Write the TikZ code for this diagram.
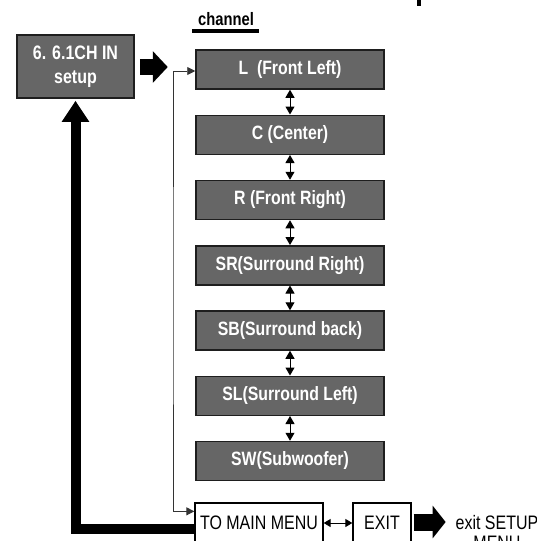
\documentclass[tikz,border=0pt]{standalone}
\usepackage{fontspec}
\setmainfont{Liberation Sans}[FakeStretch=0.82]
\usetikzlibrary{arrows.meta}
\definecolor{boxgray}{HTML}{666666}
\definecolor{edgegray}{HTML}{1E1E1E}
\definecolor{linegray}{HTML}{333333}
\begin{document}
\begin{tikzpicture}[x=1pt,y=-1pt,
  chbox/.style={draw=edgegray, line width=1.5pt, fill=boxgray, text=white,
    minimum width=188pt, minimum height=39pt, inner sep=0pt,
    font=\fontsize{19.3}{22}\selectfont\bfseries},
  setupbox/.style={draw=edgegray, line width=1.5pt, fill=boxgray, text=white,
    minimum width=117pt, minimum height=63pt, inner sep=0pt, align=center,
    font=\fontsize{19.5}{24}\selectfont\bfseries},
  wbox/.style={draw=black, line width=1.3pt, fill=white, minimum height=40pt,
    inner sep=0pt, font=\fontsize{19.5}{22}\selectfont},
  dbl/.style={line width=1pt, {Triangle[width=9pt,length=8pt]}-{Triangle[width=9pt,length=8pt]}},
  dblh/.style={line width=1pt, {Triangle[width=8pt,length=7pt]}-{Triangle[width=8pt,length=7pt]}},
  bracket/.style={draw=linegray, line width=0.9pt, {Triangle[width=8pt,length=8pt]}-{Triangle[width=8pt,length=8pt]}},
  fatarrow/.style={line width=#1, line join=miter}
]
\useasboundingbox (0,0) rectangle (536,541);

% heading
\node[font=\fontsize{18}{20}\selectfont\bfseries, inner sep=0pt] (chan) at (226,19) {channel};
\draw[line width=4pt] ([xshift=-34pt]chan.south |- 0,31) -- ([xshift=33pt]chan.south |- 0,31);
\fill (417,0) rectangle (421,6);

% setup box
\node[setupbox] (setup) at (75.5,66.5) {6. 6.1CH IN\\setup};

% channel boxes
\node[chbox] (L)  at (290,69.5)  {L~ (Front Left)};
\node[chbox] (C)  at (290,134.75) {C (Center)};
\node[chbox] (R)  at (290,200)   {R (Front Right)};
\node[chbox] (SR) at (290,265.25) {SR(Surround Right)};
\node[chbox] (SB) at (290,330.5) {SB(Surround back)};
\node[chbox] (SL) at (290,395.75) {SL(Surround Left)};
\node[chbox] (SW) at (290,461)   {SW(Subwoofer)};

% bottom boxes
\node[wbox, minimum width=128pt] (main) at (259,523) {TO MAIN MENU};
\node[wbox, minimum width=58pt] (exit) at (382,523) {EXIT};
\node[font=\fontsize{19.5}{20}\selectfont, align=center, inner sep=0pt, anchor=north] (exittxt) at (497,515) {exit SETUP\\MENU};

% vertical double arrows
\draw[dbl] (L.south) -- (C.north);
\draw[dbl] (C.south) -- (R.north);
\draw[dbl] (R.south) -- (SR.north);
\draw[dbl] (SR.south) -- (SB.north);
\draw[dbl] (SB.south) -- (SL.north);
\draw[dbl] (SL.south) -- (SW.north);

% main <-> exit
\draw[dblh] (main.east) -- (exit.west);

% thin bracket
\coordinate (brk) at (173,300);
\coordinate (mainin) at ([yshift=-9pt]main.north west);
\draw[bracket] ([yshift=-1.5pt]L.west) -| (brk) |- (mainin);

% fat arrows
\coordinate (barY) at (0,528.5);
\draw[fatarrow=10pt, -{Triangle[width=26pt,length=21pt]}] (main.west |- barY) -| ([yshift=-2pt]setup.south);
\draw[fatarrow=16pt, -{Triangle[width=31pt,length=15pt]}] ([xshift=5pt,yshift=-0.5pt]setup.east) -- ++(28,0);
\draw[fatarrow=17pt, -{Triangle[width=32pt,length=13pt]}] ([xshift=2pt,yshift=1pt]exit.east) -- ++(32,0);
\end{tikzpicture}
\end{document}
